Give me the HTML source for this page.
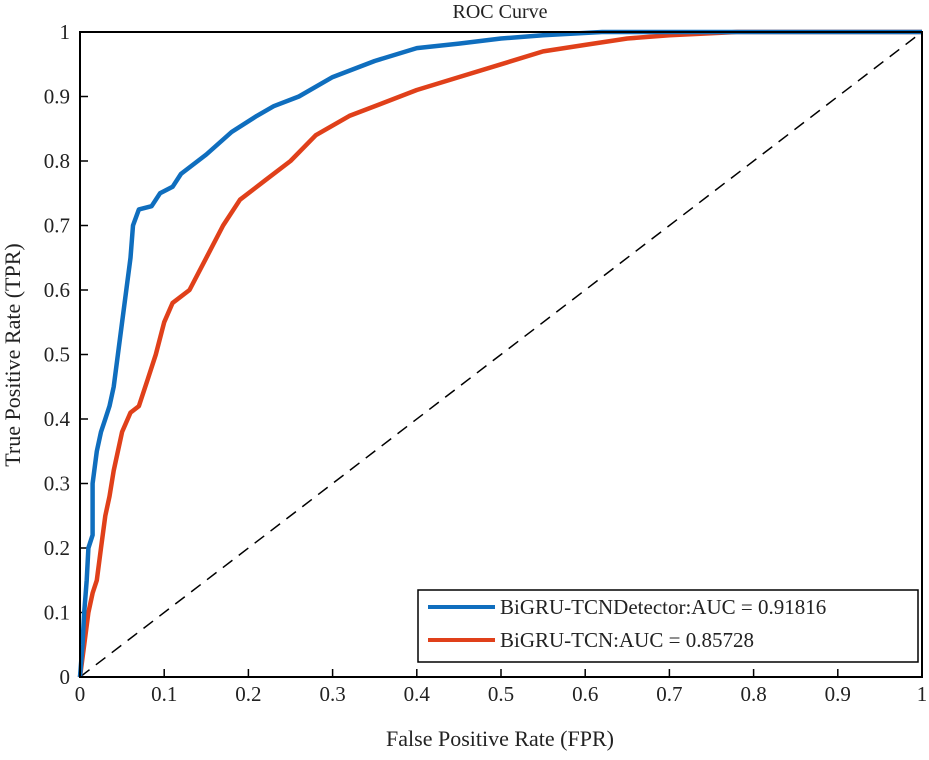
<!DOCTYPE html>
<html><head><meta charset="utf-8"><style>
body{margin:0;background:#fff;}
svg text{font-family:"Liberation Serif",serif;fill:#222;}
</style></head><body>
<svg id="chart" width="929" height="755" xmlns="http://www.w3.org/2000/svg">
<text x="500" y="18" font-size="20" text-anchor="middle">ROC Curve</text>
<g id="axes"></g>
<g id="series"></g>
<rect x="80" y="32" width="842" height="645" fill="none" stroke="#000" stroke-width="2"/>
<text x="500" y="746" font-size="22" text-anchor="middle">False Positive Rate (FPR)</text>
<text transform="translate(20,355) rotate(-90)" font-size="22" text-anchor="middle">True Positive Rate (TPR)</text>
<g>
<rect x="418" y="590" width="500" height="72" fill="#fff" stroke="#000" stroke-width="1.5"/>
<line x1="428" y1="607" x2="495" y2="607" stroke="#0f6ebe" stroke-width="4"/>
<text x="500" y="614" font-size="21">BiGRU-TCNDetector:AUC = 0.91816</text>
<line x1="428" y1="640" x2="495" y2="640" stroke="#e0401a" stroke-width="4"/>
<text x="500" y="647" font-size="21">BiGRU-TCN:AUC = 0.85728</text>
</g>
</svg>
<script>
const xTicks=[0,0.1,0.2,0.3,0.4,0.5,0.6,0.7,0.8,0.9,1];
const yTicks=[0,0.1,0.2,0.3,0.4,0.5,0.6,0.7,0.8,0.9,1];
const blueFpr=[0,0.003,0.005,0.008,0.01,0.015,0.015,0.02,0.025,0.03,0.035,0.04,0.045,0.05,0.055,0.06,0.063,0.07,0.085,0.095,0.11,0.12,0.15,0.18,0.21,0.23,0.26,0.3,0.35,0.4,0.45,0.5,0.55,0.62,1];
const blueTpr=[0,0.05,0.1,0.15,0.2,0.22,0.3,0.35,0.38,0.4,0.42,0.45,0.5,0.55,0.6,0.65,0.7,0.725,0.73,0.75,0.76,0.78,0.81,0.845,0.87,0.885,0.9,0.93,0.955,0.975,0.982,0.99,0.995,1,1];
const redFpr=[0,0.005,0.01,0.015,0.02,0.025,0.03,0.035,0.04,0.05,0.06,0.07,0.08,0.09,0.1,0.11,0.13,0.15,0.17,0.19,0.22,0.25,0.28,0.32,0.36,0.4,0.45,0.5,0.55,0.6,0.65,0.7,0.78,1];
const redTpr=[0,0.05,0.1,0.13,0.15,0.2,0.25,0.28,0.32,0.38,0.41,0.42,0.46,0.5,0.55,0.58,0.6,0.65,0.7,0.74,0.77,0.8,0.84,0.87,0.89,0.91,0.93,0.95,0.97,0.98,0.99,0.995,1,1];
const NS="http://www.w3.org/2000/svg";
const X=v=>80+v*842, Y=v=>677-v*645;
const axes=document.getElementById('axes'), series=document.getElementById('series');
function mk(tag,attrs,parent){const e=document.createElementNS(NS,tag);for(const k in attrs)e.setAttribute(k,attrs[k]);parent.appendChild(e);return e;}
xTicks.forEach(t=>{
  const l=mk('line',{x1:X(t),x2:X(t),y1:677,y2:669,stroke:'#000','stroke-width':1.5},axes);
  
  
  const tx=mk('text',{x:X(t),y:701,'font-size':21,'text-anchor':'middle'},axes);
  tx.textContent=String(t);
  
  
});
yTicks.forEach(t=>{
  const l=mk('line',{x1:80,x2:88,y1:Y(t),y2:Y(t),stroke:'#000','stroke-width':1.5},axes);
  
  
  const tx=mk('text',{x:70,y:Y(t)+7,'font-size':21,'text-anchor':'end'},axes);
  tx.textContent=String(t);
  
  
});
const diag=mk('line',{x1:X(0),y1:Y(0),x2:X(1),y2:Y(1),stroke:'#000','stroke-width':1.5,'stroke-dasharray':'12,8'},series);


function path(xs,ys,color,name){
  const d=xs.map((v,i)=>(i?'L':'M')+X(v).toFixed(1)+','+Y(ys[i]).toFixed(1)).join('');
  const p=mk('path',{d:d,fill:'none',stroke:color,'stroke-width':4.5,'stroke-linejoin':'round'},series);
  
  
}
path(redFpr,redTpr,'#e0401a','roc-line-bigru-tcn');
path(blueFpr,blueTpr,'#0f6ebe','roc-line-bigru-tcndetector');
</script>
</body></html>
